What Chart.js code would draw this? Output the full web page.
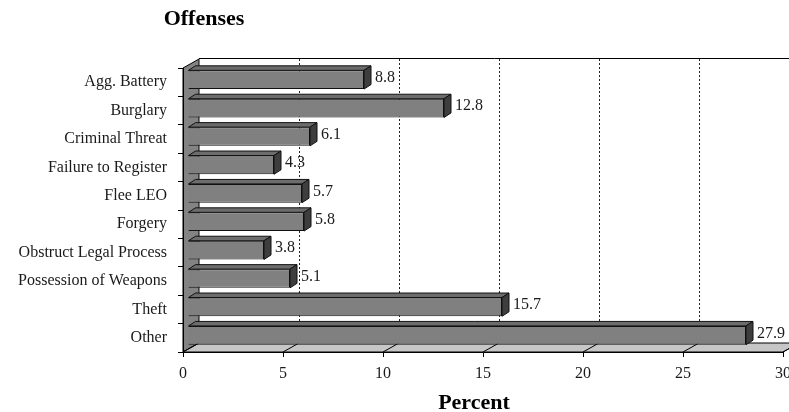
<!DOCTYPE html>
<html lang="en">
<head>
    <meta charset="utf-8">
    <title>Offenses</title>
    <script src="https://cdn.jsdelivr.net/npm/chart.js"></script>
    <style>
        html, body { margin: 0; padding: 0; background: #fff; }
        #wrap { width: 789px; height: 412px; }
    </style>
</head>
<body>
    <div id="wrap"><canvas id="offenseChart" width="789" height="412"></canvas></div>
    <script>
        // offense categories and their share in percent
        var offenses = ['Agg. Battery', 'Burglary', 'Criminal Threat', 'Failure to Register', 'Flee LEO',
                        'Forgery', 'Obstruct Legal Process', 'Possession of Weapons', 'Theft', 'Other'];
        var percents = [8.8, 12.8, 6.1, 4.3, 5.7, 5.8, 3.8, 5.1, 15.7, 27.9];
        var percentTicks = [0, 5, 10, 15, 20, 25, 30];

        var FONT = '"Liberation Serif", "Times New Roman", serif';

        // depth of the box (back wall offset) and of each bar
        var DEPTH_X = 16, DEPTH_Y = -9;
        var BAR_SX = 5, BAR_SY = -2.5;     // bars sit in the middle of the depth
        var BAR_DX = 7, BAR_DY = -4.5;

        function poly(ctx, pts, fill, stroke) {
            ctx.beginPath();
            ctx.moveTo(pts[0][0], pts[0][1]);
            for (var i = 1; i < pts.length; i++) ctx.lineTo(pts[i][0], pts[i][1]);
            ctx.closePath();
            if (fill) { ctx.fillStyle = fill; ctx.fill(); }
            if (stroke) { ctx.strokeStyle = stroke; ctx.lineWidth = 1; ctx.stroke(); }
        }

        var box3d = {
            id: 'box3d',
            beforeDraw: function (chart) {
                var ctx = chart.ctx, a = chart.chartArea, xs = chart.scales.x;
                ctx.save();
                // back wall gridlines
                ctx.setLineDash([2, 2]);
                ctx.strokeStyle = '#222';
                ctx.lineWidth = 1;
                percentTicks.forEach(function (v) {
                    if (v === 0) return;
                    var px = Math.round(xs.getPixelForValue(v) + DEPTH_X) + 0.5;
                    ctx.beginPath();
                    ctx.moveTo(px, a.top + DEPTH_Y);
                    ctx.lineTo(px, a.bottom + DEPTH_Y);
                    ctx.stroke();
                });
                ctx.setLineDash([]);
                // back wall top edge
                ctx.strokeStyle = '#000';
                ctx.beginPath();
                ctx.moveTo(a.left + DEPTH_X, a.top + DEPTH_Y - 0.5);
                ctx.lineTo(a.right + DEPTH_X, a.top + DEPTH_Y - 0.5);
                ctx.stroke();
                // left wall
                poly(ctx, [[a.left, a.top], [a.left + DEPTH_X, a.top + DEPTH_Y],
                           [a.left + DEPTH_X, a.bottom + DEPTH_Y], [a.left, a.bottom]], '#838383', '#000');
                // floor
                poly(ctx, [[a.left, a.bottom], [a.left + DEPTH_X, a.bottom + DEPTH_Y],
                           [a.right + DEPTH_X, a.bottom + DEPTH_Y], [a.right, a.bottom]], '#c6c6c6', '#000');
                // floor gridlines
                ctx.strokeStyle = '#000';
                percentTicks.forEach(function (v) {
                    var px = xs.getPixelForValue(v);
                    ctx.beginPath();
                    ctx.moveTo(px, a.bottom);
                    ctx.lineTo(px + DEPTH_X, a.bottom + DEPTH_Y);
                    ctx.stroke();
                });
                ctx.restore();
            },
            beforeDatasetsDraw: function (chart) {
                chart.ctx.save();
                chart.ctx.translate(BAR_SX, BAR_SY);
            },
            afterDatasetsDraw: function (chart) {
                var ctx = chart.ctx;
                ctx.restore();
                ctx.save();
                var bars = chart.getDatasetMeta(0).data;
                bars.forEach(function (bar, i) {
                    var p = bar.getProps(['x', 'y', 'base', 'height'], true);
                    var x0 = p.base + BAR_SX, x1 = p.x + BAR_SX;
                    var top = p.y - p.height / 2 + BAR_SY, bot = p.y + p.height / 2 + BAR_SY;
                    // top face
                    poly(ctx, [[x0, top], [x0 + BAR_DX, top + BAR_DY], [x1 + BAR_DX, top + BAR_DY], [x1, top]],
                         '#6c6c6c', '#111');
                    // right face
                    poly(ctx, [[x1, top], [x1 + BAR_DX, top + BAR_DY], [x1 + BAR_DX, bot + BAR_DY], [x1, bot]],
                         '#3e3e3e', '#111');
                    // value label
                    ctx.fillStyle = '#1a1a1a';
                    ctx.font = '16px ' + FONT;
                    ctx.textAlign = 'left';
                    ctx.textBaseline = 'middle';
                    ctx.fillText(percents[i].toFixed(1), x1 + BAR_DX + 4, p.y + BAR_SY - 2);
                });
                // chart and axis titles
                ctx.fillStyle = '#000';
                ctx.font = 'bold 22px ' + FONT;
                ctx.textAlign = 'center';
                ctx.textBaseline = 'middle';
                ctx.fillText('Offenses', 204, 19);
                ctx.fillText('Percent', 474, 403);
                ctx.restore();
            }
        };

        var ctx = document.getElementById('offenseChart').getContext('2d');
        var offenseChart = new Chart(ctx, {
            type: 'bar',
            data: {
                labels: offenses,
                datasets: [{
                    data: percents,
                    backgroundColor: '#808080',
                    borderColor: '#111',
                    borderWidth: 1,
                    barPercentage: 0.66,
                    categoryPercentage: 1
                }]
            },
            options: {
                indexAxis: 'y',
                responsive: false,
                animation: false,
                layout: { padding: { left: 0, right: 6, top: 68, bottom: 0 } },
                plugins: {
                    legend: { display: false },
                    tooltip: { enabled: false }
                },
                scales: {
                    x: {
                        min: 0,
                        max: 30,
                        afterFit: function (scale) {
                            scale.height = 60;
                            // let the last tick label run off the edge instead of shrinking the plot
                            scale.paddingLeft = 0;
                            scale.paddingRight = 0;
                        },
                        afterBuildTicks: function (scale) {
                            scale.ticks = percentTicks.map(function (v) { return { value: v }; });
                        },
                        grid: { drawOnChartArea: false, drawTicks: true, tickLength: 5, color: '#000' },
                        border: { display: true, color: '#000' },
                        ticks: { color: '#1a1a1a', font: { family: FONT, size: 16 }, padding: 7, maxRotation: 0 }
                    },
                    y: {
                        afterFit: function (scale) {
                            scale.width = 183;
                            scale.paddingTop = 0;
                            scale.paddingBottom = 0;
                        },
                        grid: { drawOnChartArea: false, drawTicks: true, tickLength: 5, color: '#000', offset: true },
                        border: { display: true, color: '#000' },
                        ticks: { color: '#1a1a1a', font: { family: FONT, size: 16 }, padding: 11 }
                    }
                }
            },
            plugins: [box3d]
        });
    </script>
</body>
</html>
